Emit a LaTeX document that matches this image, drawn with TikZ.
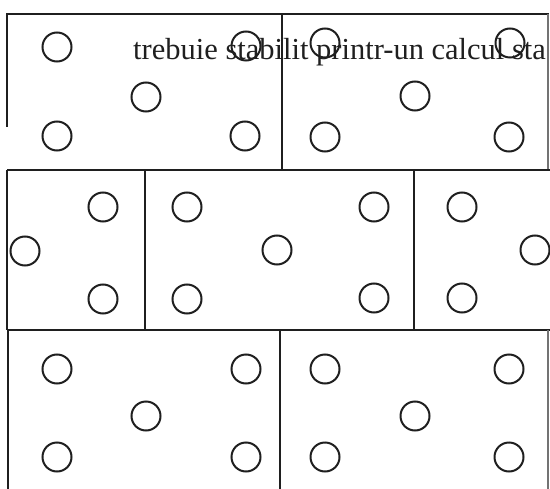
\documentclass[tikz,border=0pt]{standalone}
\usepackage{fontspec}
\setmainfont{Liberation Serif}
\begin{document}
\begin{tikzpicture}[x=1bp,y=-1bp,
  hole/.style={draw=black!88,circle,line width=2bp,minimum size=29bp,inner sep=0pt},
  wall/.style={draw=black!88,line width=2.2bp},
  edge/.style={draw=black!55,line width=1.2bp}]
\useasboundingbox (0,0) rectangle (550,489);
% frame lines
\draw[wall] (7,127) -- (7,14) -- (549,14);
\draw[edge] (548,14) -- (548,170);
\draw[wall] (282,14) -- (282,170);
\draw[wall] (7,170) -- (550,170);
\draw[wall] (7,170) -- (7,330);
\draw[wall] (145,170) -- (145,330);
\draw[wall] (414,170) -- (414,330);
\draw[wall] (7,330) -- (550,330);
\draw[wall] (8,330) -- (8,489);
\draw[wall] (280,330) -- (280,489);
\draw[edge] (548,330) -- (548,489);
% row 1
\node[hole] (a1) at (57,47) {};
\node[hole] (a2) at (146,97) {};
\node[hole] (a3) at (57,136) {};
\node[hole] (a4) at (246,46) {};
\node[hole] (a5) at (245,136) {};
\node[hole] (b1) at (325,43) {};
\node[hole] (b2) at (415,96) {};
\node[hole] (b3) at (325,137) {};
\node[hole] (b4) at (510,43) {};
\node[hole] (b5) at (509,137) {};
% row 2
\node[hole] (c1) at (103,207) {};
\node[hole] (c2) at (25,251) {};
\node[hole] (c3) at (103,299) {};
\node[hole] (d1) at (187,207) {};
\node[hole] (d2) at (187,299) {};
\node[hole] (d3) at (374,207) {};
\node[hole] (d4) at (277,250) {};
\node[hole] (d5) at (374,298) {};
\node[hole] (e1) at (462,207) {};
\node[hole] (e2) at (462,298) {};
\node[hole] (e3) at (535,250) {};
% row 3
\node[hole] (f1) at (57,369) {};
\node[hole] (f2) at (146,416) {};
\node[hole] (f3) at (57,457) {};
\node[hole] (f4) at (246,369) {};
\node[hole] (f5) at (246,457) {};
\node[hole] (g1) at (325,369) {};
\node[hole] (g2) at (415,416) {};
\node[hole] (g3) at (325,457) {};
\node[hole] (g4) at (509,369) {};
\node[hole] (g5) at (509,457) {};
% text
\node[anchor=base west,inner sep=0pt,text=black!88,font=\fontsize{30.5bp}{32bp}\selectfont] (t) at (133,60) {trebuie stabilit printr-un calcul sta};
\end{tikzpicture}
\end{document}
